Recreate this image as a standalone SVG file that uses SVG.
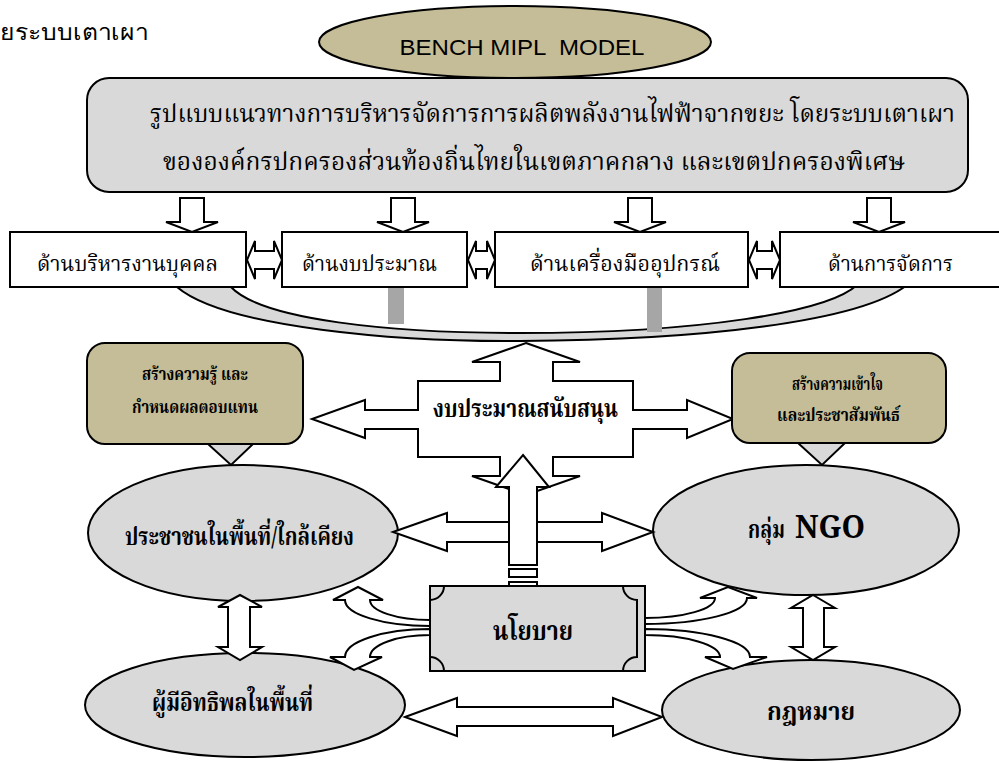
<svg xmlns="http://www.w3.org/2000/svg" width="999" height="763" viewBox="0 0 999 763">
<style>
.s{stroke:#000;stroke-width:2;stroke-linejoin:miter}
.w{fill:#fff}
.g{fill:#d9d9d9}
.t{fill:#c4bd97}
.dk{fill:#a6a6a6}
.n{fill:none}
.th{font-family:"Noto Serif Thai","Liberation Serif","Noto Serif",serif;fill:#000}
.ts{font-family:"Liberation Sans","Noto Sans",sans-serif;fill:#000}
.b{font-weight:bold}
</style>
<rect width="999" height="763" fill="#fff"/>

<g id="caption">
<text class="ts" x="0" y="40" font-size="22" textLength="148" lengthAdjust="spacingAndGlyphs">ยระบบเตาเผา</text>
</g>

<g id="title">
<ellipse class="t s" cx="515" cy="42" rx="196" ry="36"/>
<text class="ts" x="522" y="55" font-size="22" text-anchor="middle" xml:space="preserve" textLength="245" lengthAdjust="spacingAndGlyphs">BENCH MIPL  MODEL</text>
</g>

<g id="main">
<rect class="g s" x="87" y="78" width="881" height="114" rx="22"/>
<text class="th" x="150" y="122" font-size="24" textLength="805" lengthAdjust="spacingAndGlyphs">รูปแบบแนวทางการบริหารจัดการการผลิตพลังงานไฟฟ้าจากขยะ โดยระบบเตาเผา</text>
<text class="th" x="163" y="170" font-size="24" textLength="742" lengthAdjust="spacingAndGlyphs">ขององค์กรปกครองส่วนท้องถิ่นไทยในเขตภาคกลาง และเขตปกครองพิเศษ</text>
</g>

<g id="connectors">
<path class="w s" d="M180 198 H204 V222 H218 L192 232 L166 222 H180 Z"/>
<path class="w s" d="M391 198 H415 V222 H429 L403 232 L377 222 H391 Z"/>
<path class="w s" d="M628 198 H652 V222 H666 L640 232 L614 222 H628 Z"/>
<path class="w s" d="M867 198 H891 V222 H905 L879 232 L853 222 H867 Z"/>
<path class="g s" d="M177 287 C225 328 400 342 520 341 C700 340 860 322 907 285 L857 285 C828 312 700 333 520 333 C390 333 262 320 231 287 Z"/>
<rect class="dk" x="388" y="288" width="16" height="36"/>
<rect class="dk" x="647" y="288" width="15" height="44"/>
</g>

<g id="box1"><rect class="w s" x="10" y="232" width="236" height="55"/>
<text class="th" x="37" y="271" font-size="22" textLength="181" lengthAdjust="spacingAndGlyphs">ด้านบริหารงานบุคคล</text></g>
<g id="box2"><rect class="w s" x="282" y="232" width="185" height="55"/>
<text class="th" x="302" y="271" font-size="22" textLength="135" lengthAdjust="spacingAndGlyphs">ด้านงบประมาณ</text></g>
<g id="box3"><rect class="w s" x="495" y="232" width="253" height="55"/>
<text class="th" x="530" y="271" font-size="22" textLength="190" lengthAdjust="spacingAndGlyphs">ด้านเครื่องมืออุปกรณ์</text></g>
<g id="box4"><rect class="w s" x="780" y="232" width="222" height="55"/>
<text class="th" x="828" y="271" font-size="22" textLength="125" lengthAdjust="spacingAndGlyphs">ด้านการจัดการ</text></g>

<g id="box-links">
<path class="w s" d="M247 260 L255 241 V251 H274 V241 L282 260 L274 279 V269 H255 V279 Z"/>
<path class="w s" d="M468 260 L476 241 V251 H487 V241 L495 260 L487 279 V269 H476 V279 Z"/>
<path class="w s" d="M749 260 L757 241 V251 H772 V241 L780 260 L772 279 V269 H757 V279 Z"/>
</g>

<g id="budget">
<path class="w s" d="M526 343 L580 362 L553 362 L553 381 L633 381 L633 410 L687 410 L687 400 L733 419 L687 438 L687 429 L633 429 L633 457 L553 457 L553 476 L580 476 L526 495 L472 476 L500 476 L500 457 L418 457 L418 429 L365 429 L365 438 L312 419 L365 400 L365 410 L418 410 L418 381 L500 381 L500 362 L472 362 Z"/>
<text class="th b" x="433" y="417" font-size="25" textLength="185" lengthAdjust="spacingAndGlyphs">งบประมาณสนับสนุน</text>
</g>

<g id="knowledge">
<path class="g s" d="M208 444 L253 444 L231 465 Z"/>
<rect class="t s" x="87" y="343" width="216" height="101" rx="18"/>
<text class="th b" x="142" y="380" font-size="17" textLength="106" lengthAdjust="spacingAndGlyphs">สร้างความรู้ และ</text>
<text class="th b" x="132" y="413" font-size="17" textLength="126" lengthAdjust="spacingAndGlyphs">กำหนดผลตอบแทน</text>
</g>

<g id="understanding">
<path class="g s" d="M798 443 L845 443 L822 465 Z"/>
<rect class="t s" x="732" y="353" width="214" height="90" rx="18"/>
<text class="th b" x="792" y="390" font-size="17" textLength="91" lengthAdjust="spacingAndGlyphs">สร้างความเข้าใจ</text>
<text class="th b" x="777" y="421" font-size="17" textLength="123" lengthAdjust="spacingAndGlyphs">และประชาสัมพันธ์</text>
</g>

<g id="people">
<ellipse class="g s" cx="243" cy="533" rx="155" ry="68"/>
<text class="th b" x="125" y="545" font-size="25" textLength="229" lengthAdjust="spacingAndGlyphs">ประชาชนในพื้นที่/ใกล้เคียง</text>
</g>

<g id="ngo">
<ellipse class="g s" cx="806" cy="530" rx="153" ry="65"/>
<text class="th b" x="748" y="538" font-size="25" textLength="37" lengthAdjust="spacingAndGlyphs">กลุ่ม</text>
<text class="th b" x="795" y="538" font-size="32" textLength="70" lengthAdjust="spacingAndGlyphs">NGO</text>
</g>

<g id="influencers">
<ellipse class="g s" cx="245" cy="705" rx="160" ry="52"/>
<text class="th b" x="152" y="711" font-size="25" textLength="161" lengthAdjust="spacingAndGlyphs">ผู้มีอิทธิพลในพื้นที่</text>
</g>

<g id="law">
<ellipse class="g s" cx="811" cy="710" rx="149" ry="50"/>
<text class="th b" x="767" y="720" font-size="25" textLength="88" lengthAdjust="spacingAndGlyphs">กฎหมาย</text>
</g>

<g id="links">
<path class="w s" d="M393 532 L447 513 V522 H602 V513 L653 532 L602 551 V542 H447 V551 Z"/>
<path class="w s" d="M523 455 L549 487 H537 V565 H509 V487 H496 Z"/>
<rect class="w s" x="509" y="569" width="28" height="8"/>
<rect class="w s" x="509" y="582" width="28" height="4"/>
<path class="w s" d="M240 595 L262 607 H250 V647 H262 L240 660 L218 647 H228 V607 H218 Z"/>
<path class="w s" d="M813 595 L835 608 H824 V647 H835 L813 660 L791 647 H803 V608 H791 Z"/>
<path class="w s" d="M405 717 L457 698 V707 H613 V698 L662 717 L613 736 V726 H457 V736 Z"/>
<path class="w s" d="M333 600 L358 587 L383 600 L370 600 A60 20 0 0 0 430 620 L430 626 A85 26 0 0 1 345 600 Z"/>
<path class="w s" d="M330 657 L354 670 L382 657 L370 657 A60 22 0 0 1 430 635 L430 629 A85 28 0 0 0 345 657 Z"/>
<path class="w s" d="M757 598 L728 587 L700 598 L715 598 A70 20 0 0 1 645 618 L645 624 A102 26 0 0 0 747 598 Z"/>
<path class="w s" d="M705 657 L733 669 L767 657 L750 657 A105 28 0 0 0 645 629 L645 635 A75 22 0 0 1 720 657 Z"/>
</g>

<g id="policy">
<rect class="g s" x="430" y="586" width="215" height="85"/>
<path class="n s" d="M444 586 A14 14 0 0 1 430 600 M430 657 A14 14 0 0 1 444 671 M623 586 A14 14 0 0 0 637 600 V657 A14 14 0 0 0 623 671"/>
<text class="th b" x="493" y="640" font-size="27" textLength="80" lengthAdjust="spacingAndGlyphs">นโยบาย</text>
</g>
</svg>
